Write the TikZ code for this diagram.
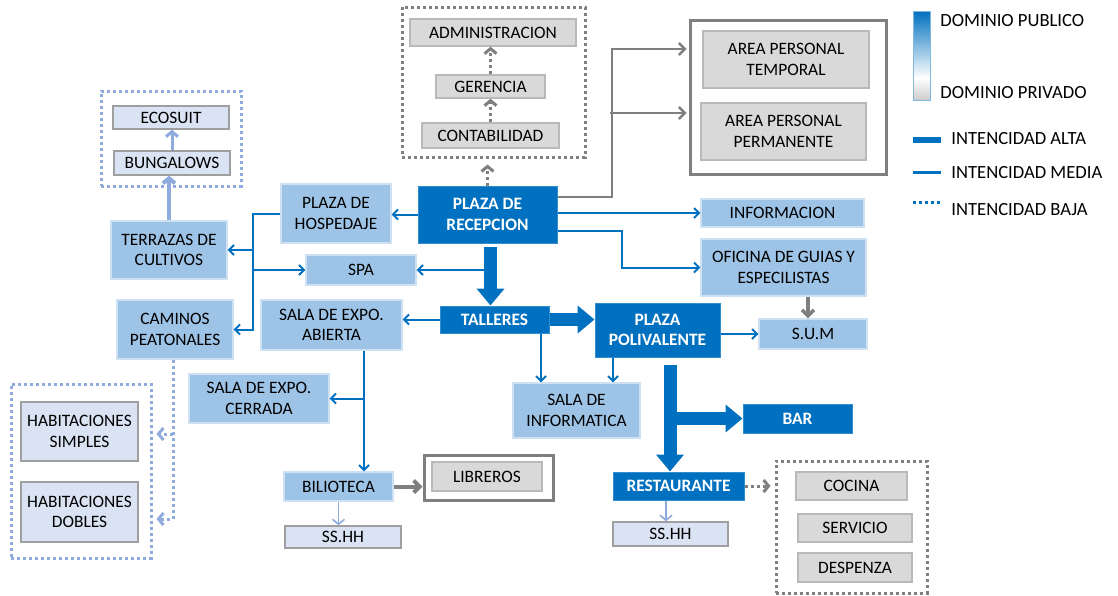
\documentclass[tikz,border=0pt]{standalone}
\usepackage{fontspec}
\setmainfont{Carlito}
\usetikzlibrary{arrows.meta}
\definecolor{domblue}{HTML}{0070C0}
\definecolor{medblue}{HTML}{9DC3E6}
\definecolor{paleblue}{HTML}{DAE3F3}
\definecolor{boxgrey}{HTML}{D9D9D9}
\definecolor{linegrey}{HTML}{7F7F7F}
\definecolor{lowblue}{HTML}{8FAADC}
\begin{document}
\begin{tikzpicture}[x=0.5pt, y=-0.5pt,
  wh/.style 2 args={minimum width=#1*0.5pt, minimum height=#2*0.5pt},
  basebox/.style={inner sep=0pt, align=center, font=\fontsize{8.7}{10.3}\selectfont},
  hibox/.style={basebox, fill=domblue, draw=domblue!80!white, line width=0.5pt, text=white, font=\fontsize{8.7}{10.3}\selectfont\bfseries},
  midbox/.style={basebox, fill=medblue, draw=medblue!50!white, line width=0.6pt},
  palebox/.style={basebox, fill=paleblue, draw=gray!75, line width=0.7pt},
  greybox/.style={basebox, fill=boxgrey, draw=gray!55, line width=0.7pt},
  dotframe/.style={inner sep=0pt, draw=#1, line width=1.5pt, dash pattern=on 1.5pt off 1.5pt},
  solidframe/.style={inner sep=0pt, draw=linegrey, line width=1.5pt},
  hilink/.style={domblue, line width=6.5pt, -{Triangle[length=8.5pt,width=13.5pt]}},
  midlink/.style={domblue, line width=1pt, -{Straight Barb[length=2.5pt,width=5pt]}},
  greylink/.style={linegrey, line width=#1, -{Straight Barb[length=3pt,width=6pt]}},
  palelink/.style={lowblue, line width=#1, -{Straight Barb[length=2.5pt,width=6pt]}},
  dotlink/.style={draw=#1, line width=1.5pt, dash pattern=on 1.5pt off 1.5pt, -{Straight Barb[length=2.5pt,width=6pt]}},
  legtext/.style={anchor=west, inner sep=0pt, font=\fontsize{9.3}{11}\selectfont}]
  \useasboundingbox (0,0) rectangle (1118,595);

  \node[dotframe=linegrey, wh={183}{150}] (adminfr) at (493.5,82) {};
  \node[solidframe, wh={196}{154}] (apfr) at (788,97) {};
  \node[dotframe=lowblue, wh={140}{95}] (bungfr) at (171,138.5) {};
  \node[dotframe=lowblue, wh={140}{174}] (habfr) at (81,471) {};
  \node[solidframe, wh={129}{45}] (librfr) at (488.5,477.5) {};
  \node[dotframe=linegrey, wh={151}{132}] (cocfr) at (851.5,527) {};

  \node[greybox, wh={166}{27}] (admin) at (493,32.5) {ADMINISTRACION};
  \node[greybox, wh={109}{23}] (ger) at (490.5,86.5) {GERENCIA};
  \node[greybox, wh={137}{25}] (cont) at (490.5,135.5) {CONTABILIDAD};
  \node[greybox, wh={166}{57}] (aptemp) at (786,59.5) {AREA PERSONAL\\TEMPORAL};
  \node[greybox, wh={165}{57}] (apperm) at (783.5,131.5) {AREA PERSONAL\\PERMANENTE};
  \node[hibox, wh={139}{57}] (recep) at (487.5,214.5) {PLAZA DE\\RECEPCION};
  \node[midbox, wh={110}{59}] (hosp) at (336,213.5) {PLAZA DE\\HOSPEDAJE};
  \node[midbox, wh={163}{28}] (info) at (782.5,213) {INFORMACION};
  \node[midbox, wh={165}{57}] (ofic) at (783.5,267.5) {OFICINA DE GUIAS Y\\ESPECILISTAS};
  \node[midbox, wh={110}{30}] (spa) at (361,270) {SPA};
  \node[hibox, wh={109}{27}] (talleres) at (494.5,319.5) {TALLERES};
  \node[midbox, wh={141}{50}] (expab) at (331.5,325) {SALA DE EXPO.\\ABIERTA};
  \node[hibox, wh={125}{54}] (poli) at (657.5,330) {PLAZA\\POLIVALENTE};
  \node[midbox, wh={108}{30}] (sum) at (813,334) {S.U.M};
  \node[midbox, wh={127}{55}] (inform) at (576.5,410.5) {SALA DE\\INFORMATICA};
  \node[hibox, wh={109}{29}] (bar) at (797.5,418.5) {BAR};
  \node[hibox, wh={131}{28}] (resto) at (678.5,486) {RESTAURANTE};
  \node[palebox, wh={115}{24}] (sshhb) at (670.5,534) {SS.HH};
  \node[greybox, wh={111}{28}] (cocina) at (851.5,486) {COCINA};
  \node[greybox, wh={114}{28}] (servicio) at (855,528) {SERVICIO};
  \node[greybox, wh={114}{29}] (despenza) at (855,567.5) {DESPENZA};
  \node[midbox, wh={116}{58}] (terr) at (169,250) {TERRAZAS DE\\CULTIVOS};
  \node[midbox, wh={116}{59}] (cam) at (175,329.5) {CAMINOS\\PEATONALES};
  \node[palebox, wh={116}{23}] (ecosuit) at (171,117.5) {ECOSUIT};
  \node[palebox, wh={116}{24}] (bung) at (172,163) {BUNGALOWS};
  \node[palebox, wh={117}{59}] (habs) at (79.5,431.5) {HABITACIONES\\SIMPLES};
  \node[palebox, wh={117}{60}] (habd) at (79.5,512) {HABITACIONES\\DOBLES};
  \node[midbox, wh={140}{49}] (expce) at (259,398.5) {SALA DE EXPO.\\CERRADA};
  \node[midbox, wh={109}{29}] (biblio) at (338.5,486.5) {BILIOTECA};
  \node[palebox, wh={116}{22}] (sshha) at (343,537) {SS.HH};
  \node[greybox, wh={110}{29}] (libr) at (487,476.5) {LIBREROS};

  \draw[dotlink=linegrey] (cont.north) -- (ger.south);
  \draw[dotlink=linegrey] (ger.north) -- (ger.north |- admin.south);
  \draw[dotlink=linegrey, shorten >=3pt] (recep.north) -- (recep.north |- adminfr.south);
  \coordinate (gsplit) at (612,197);
  \draw[greylink=1.2pt, shorten >=1pt] (recep.east |- gsplit) -- (gsplit) |- (apfr.west |- 0,49);
  \draw[greylink=1.2pt, shorten >=1pt] (610,113) -- (apfr.west |- 0,113);

  \draw[midlink] (recep.west) -- (recep.west -| hosp.east);
  \draw[midlink] (recep.east |- info.west) -- (info.west);
  \draw[midlink] (recep.east |- 0,231) -| (622,0 |- ofic.west) -- (ofic.west);
  \draw[midlink] (487,0 |- spa.east) -- (spa.east);
  \draw[midlink] (talleres.west) -- (talleres.west -| expab.east);
  \draw[midlink] (poli.east |- sum.west) -- (sum.west);
  \draw[greylink=1.8pt] (808,0 |- ofic.south) -- (808,0 |- sum.north);
  \draw[midlink] (541,0 |- talleres.south) -- (541,0 |- inform.north);
  \draw[midlink] (613,0 |- poli.south) -- (613,0 |- inform.north);
  \draw[palelink=0.8pt] (666,0 |- resto.south) -- (666,0 |- sshhb.north);
  \draw[dotlink=linegrey, shorten >=2pt] (resto.east) -- (resto.east -| cocfr.west);

  \draw[midlink] (hosp.west) -| (253,0 |- cam.east) -- (cam.east);
  \draw[midlink] (253,0 |- terr.east) -- (terr.east);
  \draw[midlink] (253,0 |- spa.west) -- (spa.west);
  \draw[palelink=2pt] (terr.north) -- (terr.north |- bung.south);
  \draw[palelink=1.5pt] (bung.north) -- (bung.north |- ecosuit.south);
  \draw[dotlink=lowblue, shorten >=2pt] (173,0 |- cam.south) |- (habfr.east |- 0,519);
  \draw[dotlink=lowblue, shorten >=2pt] (173,434) -- (habfr.east |- 0,434);
  \draw[midlink] (364,0 |- expab.south) -- (364,0 |- biblio.north);
  \draw[midlink] (364,0 |- expce.east) -- (expce.east);
  \draw[palelink=0.8pt] (biblio.south) -- (biblio.south |- sshha.north);
  \draw[greylink=2pt] (biblio.east) -- (biblio.east -| librfr.west);

  \draw[hilink, shorten <=1.5pt] (490.5,0 |- recep.south) -- (490.5,0 |- talleres.north);
  \draw[hilink] (talleres.east) -- (talleres.east -| poli.west);
  \draw[hilink, shorten <=3.5pt] (670,0 |- poli.south) -- (670,0 |- resto.north);
  \draw[hilink] (677,0 |- bar.west) -- (bar.west);

  \shade[top color=domblue, bottom color=white] (913,11) rectangle (930,78);
  \shade[top color=white, bottom color=gray!40] (913,78) rectangle (930,100);
  \draw[domblue!50, line width=0.5pt] (913,11) rectangle (930,100);
  \draw[domblue, line width=3pt] (913,140) -- (941,140);
  \draw[domblue, line width=1.5pt] (913,172) -- (941,172);
  \draw[domblue, line width=1.5pt, dash pattern=on 1.5pt off 1.5pt] (913,202) -- (941,202);
  \node[legtext] (legpub) at (940,21) {DOMINIO PUBLICO};
  \node[legtext] (legpriv) at (940,93) {DOMINIO PRIVADO};
  \node[legtext] (legalta) at (951,139) {INTENCIDAD ALTA};
  \node[legtext] (legmedia) at (951,173) {INTENCIDAD MEDIA};
  \node[legtext] (legbaja) at (951,210) {INTENCIDAD BAJA};
\end{tikzpicture}
\end{document}
